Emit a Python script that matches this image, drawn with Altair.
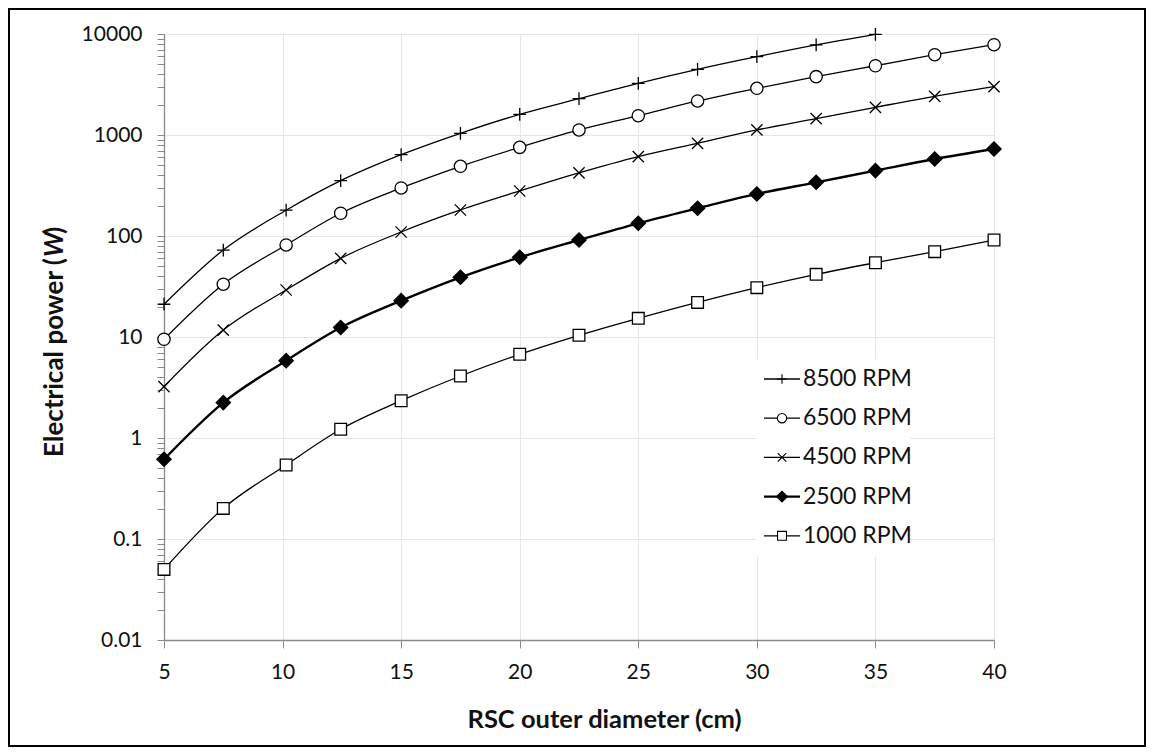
import altair as alt
import pandas as pd

# ---------------- data ----------------
diameter_cm = [5, 7.5, 10.15, 12.45, 15, 17.5, 20, 22.5, 25, 27.5, 30, 32.5, 35, 37.5, 40]
series_names = ["8500 RPM", "6500 RPM", "4500 RPM", "2500 RPM", "1000 RPM"]

power_8500 = [21.1, 72.6, 180, 353, 638, 1040, 1600, 2290, 3250, 4470, 5960, 7790, 9900]
power_6500 = [9.5, 33.3, 81.5, 168, 299, 490, 755, 1122, 1553, 2172, 2900, 3780, 4850, 6240, 7830]
power_4500 = [3.22, 11.7, 29.2, 60.1, 109.6, 181, 279, 421, 610, 827, 1122, 1452, 1880, 2416, 3010]
power_2500 = [0.615, 2.24, 5.83, 12.4, 22.9, 39.0, 61.5, 91.3, 133.6, 188, 261, 340, 444, 578, 727]
power_1000 = [0.050, 0.201, 0.541, 1.22, 2.34, 4.11, 6.74, 10.4, 15.3, 22.0, 30.8, 41.7, 54.4, 70.0, 91.2]

x_tick_values = [5, 10, 15, 20, 25, 30, 35, 40]
y_major_ticks = [0.01, 0.1, 1, 10, 100, 1000, 10000]
y_all_ticks = sorted({round(m * v, 6) for v in y_major_ticks[:-1] for m in range(1, 10)} | {10000})

x_title = "RSC outer diameter (cm)"
y_title_parts = ["Electrical power (", "W", ")"]

# ---------------- table ----------------
rows = []
for name, vals in zip(series_names, [power_8500, power_6500, power_4500, power_2500, power_1000]):
    for d, p in zip(diameter_cm, vals):
        rows.append({"diameter": d, "power": p, "series": name})
df = pd.DataFrame(rows)

# ---------------- styles ----------------
FONT = "Lato"
TXT = "#111111"
AX = "#8a8a8a"
GRID = "#e6e6e6"

marker_paths = {
    "8500 RPM": "M-0.85,0H0.85M0,-0.85V0.85",
    "6500 RPM": "M0.82,0A0.82,0.82,0,1,1,-0.82,0A0.82,0.82,0,1,1,0.82,0Z",
    "4500 RPM": "M-0.75,-0.75L0.75,0.75M-0.75,0.75L0.75,-0.75",
    "2500 RPM": "M-0.95,0L0,-0.95L0.95,0L0,0.95Z",
    "1000 RPM": "M-0.78,-0.78H0.78V0.78H-0.78Z",
}
marker_fill = {n: ("black" if n == "2500 RPM" else "white") for n in series_names}
line_width = {n: (2.4 if n == "2500 RPM" else 1.3) for n in series_names}

major_test = "abs(log(datum.value)/LN10 - round(log(datum.value)/LN10)) < 1e-6"

x_enc = alt.X(
    "diameter:Q",
    scale=alt.Scale(domain=[5, 40], nice=False, zero=False),
    axis=alt.Axis(
        values=x_tick_values, format="d", tickSize=8, tickColor=AX, domainColor=AX,
        domainWidth=1.3, gridColor=GRID, labelPadding=13, labelFontSize=21,
        labelColor=TXT, labelFont=FONT, labelFlush=False, labelOverlap=False,
        title=x_title, titleFont=FONT, titleFontSize=25.5, titleFontWeight="bold",
        titleColor=TXT, titleX=440, titleY=79, titleBaseline="middle", titleAlign="center",
    ),
)
y_enc = alt.Y(
    "power:Q",
    scale=alt.Scale(type="log", domain=[0.01, 10000], nice=False),
    axis=alt.Axis(
        values=y_all_ticks, format="~g",
        labelExpr=f"({major_test}) ? datum.label : ''",
        gridOpacity={"condition": {"test": major_test, "value": 1}, "value": 0},
        gridColor=GRID, tickSize=7, tickColor=AX, domainColor=AX, domainWidth=1.3,
        labelPadding=15, labelFontSize=21, labelColor=TXT, labelFont=FONT,
        labelFlush=False, labelOverlap=False, title=None,
    ),
)

base = alt.Chart(df).encode(x=x_enc, y=y_enc)

lines = base.mark_line(interpolate="monotone", color="black").encode(
    detail="series:N",
    strokeWidth=alt.condition("datum.series === '2500 RPM'", alt.value(2.4), alt.value(1.3)),
)

shape_cond = {
    "condition": [
        {"test": f"datum.series === '{n}'", "value": marker_paths[n]} for n in series_names[:-1]
    ],
    "value": marker_paths[series_names[-1]],
}
points = base.mark_point(filled=True, stroke="black", strokeWidth=1.3, opacity=1, size=225).encode(
    shape=shape_cond,
    fill=alt.condition("datum.series === '2500 RPM'", alt.value("black"), alt.value("white")),
)

# ---------------- legend (inside the plot, drawn with marks) ----------------
one = alt.Data(values=[{}])
LEG_X0, LEG_X1, LEG_TXT = 600, 636, 639
LEG_Y0, LEG_DY = 345, 39.2

legend_layers = [
    alt.Chart(one).mark_rect(fill="white", stroke="white").encode(
        x=alt.value(593), x2=alt.value(745), y=alt.value(325), y2=alt.value(522)
    )
]
for i, name in enumerate(series_names):
    yy = LEG_Y0 + i * LEG_DY
    legend_layers.append(
        alt.Chart(one).mark_rule(color="black", strokeWidth=line_width[name]).encode(
            x=alt.value(LEG_X0), x2=alt.value(LEG_X1), y=alt.value(yy)
        )
    )
    legend_layers.append(
        alt.Chart(one).mark_point(
            shape=marker_paths[name], size=130, filled=True, fill=marker_fill[name],
            stroke="black", strokeWidth=1.1, opacity=1,
        ).encode(x=alt.value((LEG_X0 + LEG_X1) / 2), y=alt.value(yy))
    )
    legend_layers.append(
        alt.Chart(one).mark_text(
            text=name, align="left", baseline="middle", font=FONT, fontSize=23, color=TXT
        ).encode(x=alt.value(LEG_TXT), y=alt.value(yy))
    )

frame = alt.Chart(one).mark_rect(fillOpacity=0, stroke="black", strokeWidth=2).encode(
    x=alt.value(-155), x2=alt.value(981), y=alt.value(-25), y2=alt.value(712)
)

ytitle_1 = alt.Chart(one).mark_text(
    text=y_title_parts[0], angle=270, align="right", baseline="middle",
    font=FONT, fontSize=26, fontWeight="bold", color=TXT,
).encode(x=alt.value(-109), y=alt.value(224))
ytitle_2 = alt.Chart(one).mark_text(
    text=y_title_parts[1], angle=270, align="left", baseline="middle",
    font=FONT, fontSize=26, fontWeight="bold", fontStyle="italic", color=TXT,
).encode(x=alt.value(-109), y=alt.value(223))
ytitle_3 = alt.Chart(one).mark_text(
    text=y_title_parts[2], angle=270, align="left", baseline="middle",
    font=FONT, fontSize=26, fontWeight="bold", color=TXT,
).encode(x=alt.value(-109), y=alt.value(200))

chart = alt.layer(
    frame, lines, points, *legend_layers, ytitle_1, ytitle_2, ytitle_3
).properties(
    width=830, height=606,
    autosize=alt.AutoSizeParams(type="none"),
    padding={"left": 156, "top": 26, "right": 152, "bottom": 107},
).configure_view(strokeWidth=0).configure(font=FONT, background="white")

chart.save("out.html", embed_options={"renderer": "svg", "actions": False})
